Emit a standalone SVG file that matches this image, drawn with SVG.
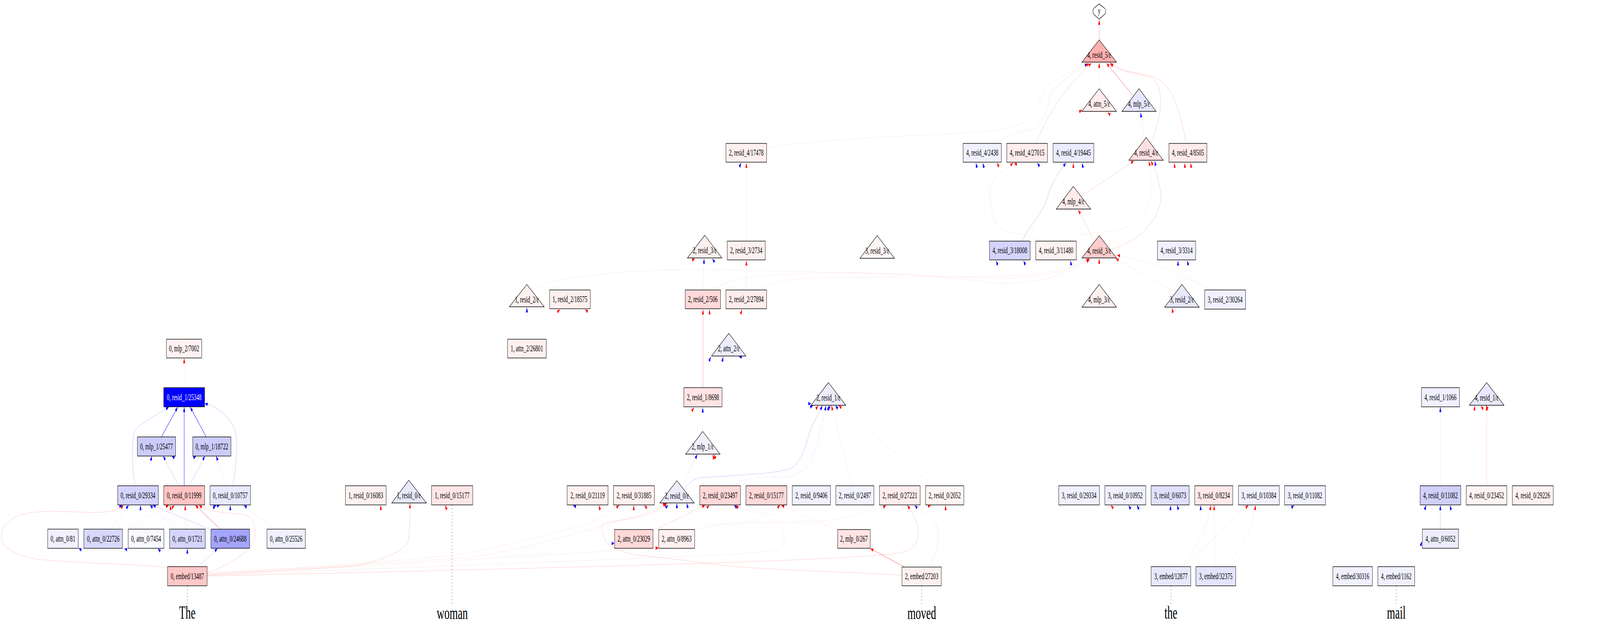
<svg xmlns="http://www.w3.org/2000/svg" width="7115" height="1607" viewBox="0 0 7115 1607" preserveAspectRatio="none" style="width:100vw;height:100vh">
<style>
.nd rect,.nd polygon,.nd path{stroke:#000;stroke-width:1.4}
.nd text{font-family:"Liberation Serif","Times New Roman",serif;font-size:23px;text-anchor:middle;fill:#000}
.tok{font-family:"Liberation Serif","Times New Roman",serif;font-size:47px;text-anchor:middle;fill:#000}
.dot{stroke:#000;stroke-width:1.6;stroke-dasharray:1.6,7;fill:none}
.rs{stroke:#f00;stroke-opacity:.55;stroke-width:1.1;marker-end:url(#mr)}
.rm{stroke:#f00;stroke-opacity:.28;marker-end:url(#mr)}
.rf{stroke:#f00;stroke-opacity:.12;marker-end:url(#mr)}
.rx{stroke:#f00;stroke-opacity:.03;marker-end:url(#mr)}
.bs{stroke:#00f;stroke-opacity:.9;stroke-width:1.5;marker-end:url(#mb)}
.bm{stroke:#00f;stroke-opacity:.3;marker-end:url(#mb)}
.bf{stroke:#00f;stroke-opacity:.12;marker-end:url(#mb)}
.bx{stroke:#00f;stroke-opacity:.03;marker-end:url(#mb)}
</style>
<defs>
<marker id="mr" viewBox="0 0 13 9" refX="12.5" refY="4.5" markerWidth="13" markerHeight="9" markerUnits="userSpaceOnUse" orient="auto"><path d="M0,0L13,4.5L0,9z" fill="#f00"/></marker>
<marker id="mb" viewBox="0 0 13 9" refX="12.5" refY="4.5" markerWidth="13" markerHeight="9" markerUnits="userSpaceOnUse" orient="auto"><path d="M0,0L13,4.5L0,9z" fill="#00f"/></marker>
</defs>
<rect width="7115" height="1607" fill="#fff"/>
<g id="edges" fill="none" stroke-width="1">
<path class="rs" d="M4888,102L4888,51"/>
<path class="rf" d="M4888,227L4888,161"/>
<path class="rs" d="M5037,244L4921,162"/>
<path class="rm" d="M4607,367C4680,260 4790,195 4853,162"/>
<path class="bf" d="M4430,366C4480,345 4560,335 4598,330C4630,318 4655,290 4667,250C4680,225 4740,200 4836,163"/>
<path class="rf" d="M3409,378C3800,345 4150,350 4400,335C4590,322 4610,290 4625,255C4650,200 4760,188 4843,163"/>
<path class="rm" d="M5118,367C5170,290 5178,225 5126,202C5080,186 4990,190 4936,162"/>
<path class="rm" d="M5275,367C5245,270 5205,212 5125,196C5045,184 4980,182 4938,162"/>
<path class="bf" d="M5088,352L5072,288"/>
<path class="rx" d="M5060,362L4926,288"/>
<path class="rx" d="M4658,372C4720,330 4780,295 4811,281"/>
<path class="rm" d="M4808,502L5042,412"/>
<path class="rm" d="M4939,638C5060,620 5140,570 5160,520C5170,480 5140,440 5118,412"/>
<path class="rf" d="M4759,617C4790,600 4850,595 4927,593C5050,585 5110,540 5118,500C5122,460 5115,430 5109,412"/>
<path class="bm" d="M4543,617C4590,570 4640,540 4655,510C4680,460 4710,440 4740,417"/>
<path class="rx" d="M4773,477L4773,417"/>
<path class="bx" d="M4870,612L4812,417"/>
<path class="rf" d="M4632,617C4560,595 4470,600 4440,580C4400,550 4390,480 4420,460C4450,440 4490,425 4505,417"/>
<path class="rx" d="M4740,500L4510,417"/>
<path class="bx" d="M4850,640L4613,417"/>
<path class="bx" d="M4410,617L4340,417"/>
<path class="bx" d="M4440,617L4371,417"/>
<path class="rx" d="M4620,617L4433,417"/>
<path class="bx" d="M5200,617L5135,412"/>
<path class="rx" d="M5250,617L5222,417"/>
<path class="rx" d="M5262,728L5269,417"/>
<path class="rx" d="M5400,742L5294,417"/>
<path class="rm" d="M4865,616L4795,537"/>
<path class="rx" d="M4888,728L4888,662"/>
<path class="rf" d="M5225,748L4962,662"/>
<path class="rf" d="M5387,742C5300,715 5150,675 4968,653"/>
<path class="rf" d="M2366,745C2400,728 2500,710 2615,706C2800,692 3000,688 3200,690C3600,695 4000,700 4400,712C4600,718 4780,690 4843,662"/>
<path class="rf" d="M3175,742C3220,720 3300,705 3500,702C3800,690 4200,705 4430,725C4650,728 4800,690 4845,663"/>
<path class="rf" d="M3378,742C3420,725 3460,716 3600,712C3900,705 4300,715 4583,702C4700,695 4790,680 4846,663"/>
<path class="bx" d="M4750,1243L4430,667"/>
<path class="bx" d="M4930,1243L4552,667"/>
<path class="bx" d="M4960,1243L4760,667"/>
<path class="bx" d="M5200,1243L5239,667"/>
<path class="bx" d="M5560,1243L5279,667"/>
<path class="rx" d="M5350,1243L5212,788"/>
<path class="rf" d="M3319,742L3319,667"/>
<path class="rf" d="M3319,617L3319,417"/>
<path class="bx" d="M3150,602L3296,417"/>
<path class="bf" d="M3126,742L3131,662"/>
<path class="rx" d="M2625,748C2800,720 3000,690 3090,662"/>
<path class="bx" d="M3250,742L3168,662"/>
<path class="rs" d="M3126,992L3126,792"/>
<path class="rx" d="M3180,992L3154,792"/>
<path class="rx" d="M3260,880L3299,792"/>
<path class="bx" d="M2343,868L2343,787"/>
<path class="rf" d="M2357,868L2490,792"/>
<path class="rx" d="M3164,905C2900,880 2700,840 2602,792"/>
<path class="bx" d="M3100,1104C3120,1000 3140,950 3160,913"/>
<path class="bx" d="M3150,1110L3216,913"/>
<path class="bx" d="M3684,979L3286,912"/>
<path class="bx" d="M3125,1104L3125,1043"/>
<path class="rx" d="M2880,1243L3086,1043"/>
<path class="rx" d="M3200,1243L3170,1163"/>
<path class="rx" d="M3230,1243L3175,1163"/>
<path class="bf" d="M3035,1243L3101,1163"/>
<path class="bm" d="M3044,1251C3080,1225 3100,1222 3133,1222C3300,1215 3450,1212 3515,1199C3560,1185 3580,1150 3598,1111C3615,1080 3640,1060 3657,1038"/>
<path class="bf" d="M3261,1243C3300,1225 3350,1220 3486,1222C3560,1215 3600,1190 3607,1184C3630,1140 3660,1080 3673,1038"/>
<path class="rf" d="M3790,1243L3697,1038"/>
<path class="rf" d="M4153,1243L3730,1038"/>
<path class="bx" d="M3608,1243L3686,1038"/>
<path class="bx" d="M3470,1243L3693,1038"/>
<path class="bx" d="M3990,1243L3715,1038"/>
<path class="rx" d="M3420,1243L3638,1038"/>
<path class="bx" d="M3202,1162L3615,1038"/>
<path class="bx" d="M3211,1025L3607,1033"/>
<path class="rx" d="M2818,1355L2818,1293"/>
<path class="bf" d="M2860,1355L2971,1293"/>
<path class="rm" d="M2905,1358L3135,1293"/>
<path class="rx" d="M3052,1355L3154,1293"/>
<path class="bx" d="M3010,1355L3010,1288"/>
<path class="bx" d="M2740,1355L2549,1293"/>
<path class="rx" d="M2950,1355L2866,1293"/>
<path class="bx" d="M3080,1355L3054,1288"/>
<path class="bx" d="M4011,1460C3600,1420 3350,1340 3265,1293"/>
<path class="rf" d="M3725,1357L3475,1293"/>
<path class="rx" d="M3089,1370C3300,1340 3420,1320 3469,1293"/>
<path class="rs" d="M4022,1451L3871,1404"/>
<path class="bf" d="M4132,1451C4170,1410 4185,1375 4165,1345C4140,1320 4090,1308 4068,1293"/>
<path class="rx" d="M4160,1451C4190,1400 4205,1350 4205,1293"/>
<path class="rf" d="M3089,1357C3150,1345 3250,1336 3400,1336C3550,1338 3700,1335 3802,1318C3870,1308 3920,1302 3940,1293"/>
<path class="rx" d="M2904,1360C3100,1342 3300,1342 3400,1342C3700,1345 3950,1330 4139,1293"/>
<path class="rm" d="M4011,1472C3700,1462 3400,1457 3229,1448C3038,1432 2900,1425 2846,1421C2760,1414 2720,1400 2700,1390C2680,1370 2670,1350 2680,1340C2720,1332 2815,1329 2880,1316C2920,1305 2950,1296 2966,1288"/>
<path class="rm" d="M921,1472C1100,1465 1400,1455 1581,1448C1700,1433 1790,1415 1815,1385C1822,1360 1823,1330 1823,1288"/>
<path class="rx" d="M921,1468C1300,1450 1650,1420 1700,1380C1720,1350 1700,1320 1691,1293"/>
<path class="rx" d="M921,1466C1400,1450 1900,1420 2000,1380C2010,1350 1995,1320 1980,1293"/>
<path class="rx" d="M921,1466C1500,1450 2300,1420 2560,1380C2660,1360 2680,1330 2663,1293"/>
<path class="rf" d="M921,1468C1300,1455 1700,1440 2001,1421C2200,1405 2450,1365 2591,1344C2660,1330 2720,1310 2753,1293"/>
<path class="rf" d="M921,1466C1300,1455 1800,1440 2100,1425C2300,1410 2600,1360 2783,1329C2870,1313 2930,1300 2961,1288"/>
<path class="rf" d="M921,1470C1500,1455 2100,1430 2400,1421C2600,1415 2800,1406 2928,1402"/>
<path class="bx" d="M921,1476C1800,1460 2500,1410 2732,1390"/>
<path class="rf" d="M921,1472C1700,1455 2800,1430 3200,1420C3350,1416 3470,1412 3483,1395C3495,1370 3480,1330 3440,1318C3380,1310 3300,1310 3272,1293"/>
<path class="rm" d="M921,1474C2000,1460 3000,1445 3400,1436C3600,1432 3900,1422 3974,1417C4060,1410 4078,1395 4083,1367C4088,1340 4060,1315 4035,1293"/>
<path class="rf" d="M819,992L819,917"/>
<path class="bs" d="M718,1118L790,1042"/>
<path class="bs" d="M819,1243L819,1042"/>
<path class="bs" d="M917,1118L846,1042"/>
<path class="bm" d="M601,1243C588,1200 582,1140 599,1102C630,1080 710,1058 750,1042"/>
<path class="bm" d="M1035,1243C1055,1180 1060,1110 1036,1089C1010,1060 960,1040 911,1033"/>
<path class="bm" d="M795,1243L726,1167"/>
<path class="bm" d="M842,1243L911,1167"/>
<path class="bf" d="M1009,1243L961,1167"/>
<path class="bx" d="M640,1243L676,1167"/>
<path class="bx" d="M950,1243L764,1167"/>
<path class="bx" d="M680,1243L872,1167"/>
<path class="rm" d="M745,1452C600,1443 300,1440 166,1431C60,1420 5,1400 6,1370C8,1340 60,1315 166,1310C280,1306 400,1314 470,1310C510,1308 535,1302 549,1293"/>
<path class="bf" d="M493,1354L572,1293"/>
<path class="bf" d="M785,1354L667,1293"/>
<path class="bm" d="M938,1356L680,1293"/>
<path class="bx" d="M300,1354L543,1293"/>
<path class="bx" d="M630,1354L624,1293"/>
<path class="rf" d="M545,1357L750,1293"/>
<path class="rx" d="M800,1450L756,1293"/>
<path class="rf" d="M688,1354L775,1293"/>
<path class="rf" d="M829,1354L823,1293"/>
<path class="rs" d="M979,1354L869,1293"/>
<path class="rm" d="M921,1466C1020,1445 1120,1410 1133,1375C1140,1340 1120,1320 1080,1316C1000,1312 920,1310 886,1293"/>
<path class="bx" d="M880,1354L958,1293"/>
<path class="bx" d="M700,1354L962,1293"/>
<path class="bx" d="M560,1354L977,1293"/>
<path class="bx" d="M1024,1354L1024,1293"/>
<path class="bf" d="M1217,1354L1085,1293"/>
<path class="bx" d="M745,1475C600,1460 420,1430 350,1403"/>
<path class="bx" d="M760,1450L553,1404"/>
<path class="bx" d="M780,1450L702,1404"/>
<path class="bx" d="M833,1450L833,1404"/>
<path class="bm" d="M880,1450L967,1404"/>
<path class="rf" d="M5259,1450C5310,1410 5360,1370 5385,1293"/>
<path class="rf" d="M5265,1450L5551,1293"/>
<path class="rf" d="M5403,1450L5399,1293"/>
<path class="rf" d="M5454,1450C5510,1410 5560,1370 5584,1293"/>
<path class="bx" d="M5207,1450L5205,1293"/>
<path class="bx" d="M5330,1450L5234,1293"/>
<path class="rx" d="M5140,1450L4940,1293"/>
<path class="bx" d="M5160,1450L5019,1293"/>
<path class="bx" d="M5180,1450L5056,1293"/>
<path class="bx" d="M5360,1450L5338,1293"/>
<path class="bx" d="M5480,1450L5754,1293"/>
<path class="rm" d="M6611,1243L6611,1038"/>
<path class="rx" d="M6780,1243L6586,1038"/>
<path class="rx" d="M6560,1243L6557,1038"/>
<path class="rx" d="M6840,1243L6607,1038"/>
<path class="bf" d="M6405,1243L6405,1042"/>
<path class="bm" d="M6405,1354L6405,1293"/>
<path class="bx" d="M6250,1450L6342,1293"/>
<path class="bx" d="M6470,1354L6448,1293"/>
<path class="bx" d="M6280,1450L6324,1386"/>
</g>
<g id="tokens">
<path class="dot" d="M833,1500V1546"/>
<path class="dot" d="M2010.5,1293V1546"/>
<path class="dot" d="M4098.5,1500V1546"/>
<path class="dot" d="M5207,1500V1546"/>
<path class="dot" d="M6209,1500V1546"/>
<text class="tok" x="833" y="1583">The</text>
<text class="tok" x="2011" y="1584">woman</text>
<text class="tok" x="4099" y="1584">moved</text>
<text class="tok" x="5207" y="1583">the</text>
<text class="tok" x="6209" y="1583">mail</text>
</g>
<g id="n_y" class="nd"><path d="M4888,10L4910,20Q4917,24 4917,29Q4917,34 4910,38L4888,49L4866,38Q4860,34 4860,29Q4860,24 4866,20Z" fill="#fff"/><text x="4888" y="35">y</text></g>
<g id="n_4_resid_5_e" class="nd"><polygon points="4888,102 4965,159 4811,159" fill="#ffb0b0"/><text x="4888" y="148">4, resid_5/ε</text></g>
<g id="n_4_attn_5_e" class="nd"><polygon points="4888,227 4965,285 4810,285" fill="#ffecec"/><text x="4888" y="273">4, attn_5/ε</text></g>
<g id="n_4_mlp_5_e" class="nd"><polygon points="5065,227 5141,285 4989,285" fill="#e6e6fc"/><text x="5065" y="273">4, mlp_5/ε</text></g>
<g id="n_4_resid_4_2438" class="nd"><rect x="4283" y="367" width="170" height="48" fill="#f0f0ff"/><text x="4368" y="398.5">4, resid_4/2438</text></g>
<g id="n_4_resid_4_27015" class="nd"><rect x="4477" y="367" width="181" height="48" fill="#ffecec"/><text x="4567.5" y="398.5">4, resid_4/27015</text></g>
<g id="n_4_resid_4_19445" class="nd"><rect x="4683" y="367" width="181" height="48" fill="#ececff"/><text x="4773.5" y="398.5">4, resid_4/19445</text></g>
<g id="n_4_resid_4_e" class="nd"><polygon points="5097,352 5173,410 5020,410" fill="#ffe0e0"/><text x="5097" y="398">4, resid_4/ε</text></g>
<g id="n_4_resid_4_8505" class="nd"><rect x="5198" y="367" width="169" height="48" fill="#ffeaea"/><text x="5282.5" y="398.5">4, resid_4/8505</text></g>
<g id="n_2_resid_4_17478" class="nd"><rect x="3228" y="367" width="181" height="48" fill="#fff0f0"/><text x="3318.5" y="398.5">2, resid_4/17478</text></g>
<g id="n_4_mlp_4_e" class="nd"><polygon points="4773,477 4850,535 4697,535" fill="#ffecec"/><text x="4773" y="523">4, mlp_4/ε</text></g>
<g id="n_2_resid_3_e" class="nd"><polygon points="3134,602 3210,660 3057,660" fill="#fff0f0"/><text x="3134" y="648">2, resid_3/ε</text></g>
<g id="n_2_resid_3_2734" class="nd"><rect x="3234" y="617" width="169" height="48" fill="#fff0f0"/><text x="3318.5" y="648.5">2, resid_3/2734</text></g>
<g id="n_3_resid_3_e" class="nd"><polygon points="3901,603 3978,661 3824,661" fill="#fff4f4"/><text x="3901" y="649">3, resid_3/ε</text></g>
<g id="n_4_resid_3_18008" class="nd"><rect x="4400" y="617" width="181" height="48" fill="#d4d4fc"/><text x="4490.5" y="648.5">4, resid_3/18008</text></g>
<g id="n_4_resid_3_11480" class="nd"><rect x="4606" y="617" width="180" height="48" fill="#fff2f2"/><text x="4696" y="648.5">4, resid_3/11480</text></g>
<g id="n_4_resid_3_e" class="nd"><polygon points="4888,603 4965,660 4811,660" fill="#ffcccc"/><text x="4888" y="649">4, resid_3/ε</text></g>
<g id="n_4_resid_3_3314" class="nd"><rect x="5147" y="617" width="170" height="48" fill="#f0f0ff"/><text x="5232" y="648.5">4, resid_3/3314</text></g>
<g id="n_1_resid_2_e" class="nd"><polygon points="2343,728 2420,785 2265,785" fill="#fff0f0"/><text x="2343" y="774">1, resid_2/ε</text></g>
<g id="n_1_resid_2_18575" class="nd"><rect x="2444" y="742" width="181" height="48" fill="#fff0f0"/><text x="2534.5" y="773.5">1, resid_2/18575</text></g>
<g id="n_2_resid_2_506" class="nd"><rect x="3047" y="742" width="157" height="48" fill="#ffd8d8"/><text x="3125.5" y="773.5">2, resid_2/506</text></g>
<g id="n_2_resid_2_27894" class="nd"><rect x="3228" y="742" width="181" height="48" fill="#ffecec"/><text x="3318.5" y="773.5">2, resid_2/27894</text></g>
<g id="n_4_mlp_3_e" class="nd"><polygon points="4888,728 4965,786 4811,786" fill="#fff0f0"/><text x="4888" y="774">4, mlp_3/ε</text></g>
<g id="n_3_resid_2_e" class="nd"><polygon points="5256,728 5333,786 5179,786" fill="#e8e8fc"/><text x="5256" y="774">3, resid_2/ε</text></g>
<g id="n_3_resid_2_30264" class="nd"><rect x="5357" y="742" width="182" height="49" fill="#f0f0ff"/><text x="5448" y="774">3, resid_2/30264</text></g>
<g id="n_1_attn_2_26801" class="nd"><rect x="2257" y="868" width="172" height="48" fill="#fff0f0"/><text x="2343" y="899.5">1, attn_2/26801</text></g>
<g id="n_2_attn_2_e" class="nd"><polygon points="3241,853 3317,911 3164,911" fill="#ececfc"/><text x="3241" y="899">2, attn_2/ε</text></g>
<g id="n_0_mlp_2_7002" class="nd"><rect x="740" y="868" width="157" height="48" fill="#fff2f2"/><text x="818.5" y="899.5">0, mlp_2/7002</text></g>
<g id="n_0_resid_1_25348" class="nd"><rect x="728" y="992" width="182" height="49" fill="#0000ff"/><text x="819" y="1024" style="fill:#fff">0, resid_1/25348</text></g>
<g id="n_2_resid_1_8698" class="nd"><rect x="3041" y="992" width="170" height="49" fill="#ffe4e4"/><text x="3126" y="1024">2, resid_1/8698</text></g>
<g id="n_2_resid_1_e" class="nd"><polygon points="3684,979 3761,1037 3607,1037" fill="#ececfc"/><text x="3684" y="1025">2, resid_1/ε</text></g>
<g id="n_4_resid_1_1066" class="nd"><rect x="6321" y="992" width="169" height="49" fill="#f0f0ff"/><text x="6405.5" y="1024">4, resid_1/1066</text></g>
<g id="n_4_resid_1_e" class="nd"><polygon points="6611,979 6688,1037 6534,1037" fill="#e8e8fc"/><text x="6611" y="1025">4, resid_1/ε</text></g>
<g id="n_0_mlp_1_25477" class="nd"><rect x="611" y="1118" width="170" height="49" fill="#ccccfa"/><text x="696" y="1150">0, mlp_1/25477</text></g>
<g id="n_0_mlp_1_18722" class="nd"><rect x="857" y="1118" width="170" height="49" fill="#ccccfa"/><text x="942" y="1150">0, mlp_1/18722</text></g>
<g id="n_2_mlp_1_e" class="nd"><polygon points="3125,1104 3202,1162 3049,1162" fill="#f0f0fc"/><text x="3125" y="1150">2, mlp_1/ε</text></g>
<g id="n_0_resid_0_29334" class="nd"><rect x="523" y="1243" width="181" height="49" fill="#d4d4fc"/><text x="613.5" y="1275">0, resid_0/29334</text></g>
<g id="n_0_resid_0_11999" class="nd"><rect x="728" y="1243" width="182" height="49" fill="#ffc4c4"/><text x="819" y="1275">0, resid_0/11999</text></g>
<g id="n_0_resid_0_10757" class="nd"><rect x="934" y="1243" width="180" height="49" fill="#e8e8fe"/><text x="1024" y="1275">0, resid_0/10757</text></g>
<g id="n_1_resid_0_16083" class="nd"><rect x="1536" y="1243" width="181" height="49" fill="#fff0f0"/><text x="1626.5" y="1275">1, resid_0/16083</text></g>
<g id="n_1_resid_0_e" class="nd"><polygon points="1818,1229 1896,1287 1742,1287" fill="#e8e8fc"/><text x="1818" y="1275">1, resid_0/ε</text></g>
<g id="n_1_resid_0_15177" class="nd"><rect x="1919" y="1243" width="183" height="49" fill="#ffe6e6"/><text x="2010.5" y="1275">1, resid_0/15177</text></g>
<g id="n_2_resid_0_21119" class="nd"><rect x="2522" y="1243" width="182" height="49" fill="#fff0f0"/><text x="2613" y="1275">2, resid_0/21119</text></g>
<g id="n_2_resid_0_31885" class="nd"><rect x="2728" y="1243" width="182" height="49" fill="#fff0f0"/><text x="2819" y="1275">2, resid_0/31885</text></g>
<g id="n_2_resid_0_e" class="nd"><polygon points="3010,1230 3087,1287 2934,1287" fill="#ececfc"/><text x="3010" y="1276">2, resid_0/ε</text></g>
<g id="n_2_resid_0_23497" class="nd"><rect x="3112" y="1243" width="181" height="49" fill="#ffd8d8"/><text x="3202.5" y="1275">2, resid_0/23497</text></g>
<g id="n_2_resid_0_15177" class="nd"><rect x="3317" y="1243" width="182" height="49" fill="#ffd8d8"/><text x="3408" y="1275">2, resid_0/15177</text></g>
<g id="n_2_resid_0_9406" class="nd"><rect x="3523" y="1243" width="170" height="49" fill="#f0f0ff"/><text x="3608" y="1275">2, resid_0/9406</text></g>
<g id="n_2_resid_0_2497" class="nd"><rect x="3717" y="1243" width="169" height="49" fill="#f2f2ff"/><text x="3801.5" y="1275">2, resid_0/2497</text></g>
<g id="n_2_resid_0_27221" class="nd"><rect x="3911" y="1243" width="181" height="49" fill="#ffecec"/><text x="4001.5" y="1275">2, resid_0/27221</text></g>
<g id="n_2_resid_0_2052" class="nd"><rect x="4116" y="1243" width="170" height="49" fill="#fff4f4"/><text x="4201" y="1275">2, resid_0/2052</text></g>
<g id="n_3_resid_0_29334" class="nd"><rect x="4708" y="1243" width="181" height="49" fill="#f0f0ff"/><text x="4798.5" y="1275">3, resid_0/29334</text></g>
<g id="n_3_resid_0_10952" class="nd"><rect x="4913" y="1243" width="182" height="49" fill="#f0f0ff"/><text x="5004" y="1275">3, resid_0/10952</text></g>
<g id="n_3_resid_0_6073" class="nd"><rect x="5119" y="1243" width="169" height="49" fill="#e0e0fc"/><text x="5203.5" y="1275">3, resid_0/6073</text></g>
<g id="n_3_resid_0_8234" class="nd"><rect x="5313" y="1243" width="169" height="49" fill="#ffe8e8"/><text x="5397.5" y="1275">3, resid_0/8234</text></g>
<g id="n_3_resid_0_10384" class="nd"><rect x="5507" y="1243" width="182" height="49" fill="#f0f0ff"/><text x="5598" y="1275">3, resid_0/10384</text></g>
<g id="n_3_resid_0_11082" class="nd"><rect x="5712" y="1243" width="182" height="49" fill="#f0f0ff"/><text x="5803" y="1275">3, resid_0/11082</text></g>
<g id="n_4_resid_0_11082" class="nd"><rect x="6315" y="1243" width="181" height="49" fill="#d0d0fa"/><text x="6405.5" y="1275">4, resid_0/11082</text></g>
<g id="n_4_resid_0_23452" class="nd"><rect x="6520" y="1243" width="181" height="49" fill="#fff2f2"/><text x="6610.5" y="1275">4, resid_0/23452</text></g>
<g id="n_4_resid_0_29226" class="nd"><rect x="6725" y="1243" width="182" height="49" fill="#fff0f0"/><text x="6816" y="1275">4, resid_0/29226</text></g>
<g id="n_0_attn_0_81" class="nd"><rect x="212" y="1354" width="136" height="49" fill="#f0f0ff"/><text x="280" y="1386">0, attn_0/81</text></g>
<g id="n_0_attn_0_22726" class="nd"><rect x="373" y="1354" width="172" height="49" fill="#d8d8fc"/><text x="459" y="1386">0, attn_0/22726</text></g>
<g id="n_0_attn_0_7454" class="nd"><rect x="570" y="1354" width="159" height="49" fill="#f8f8ff"/><text x="649.5" y="1386">0, attn_0/7454</text></g>
<g id="n_0_attn_0_1721" class="nd"><rect x="754" y="1354" width="159" height="49" fill="#d4d4fc"/><text x="833.5" y="1386">0, attn_0/1721</text></g>
<g id="n_0_attn_0_24688" class="nd"><rect x="938" y="1354" width="172" height="49" fill="#a4a4fa"/><text x="1024" y="1386">0, attn_0/24688</text></g>
<g id="n_0_attn_0_25526" class="nd"><rect x="1187" y="1354" width="171" height="49" fill="#f0f0ff"/><text x="1272.5" y="1386">0, attn_0/25526</text></g>
<g id="n_2_attn_0_23029" class="nd"><rect x="2733" y="1355" width="171" height="48" fill="#ffd8d8"/><text x="2818.5" y="1386.5">2, attn_0/23029</text></g>
<g id="n_2_attn_0_8963" class="nd"><rect x="2929" y="1355" width="160" height="48" fill="#fff0f0"/><text x="3009" y="1386.5">2, attn_0/8963</text></g>
<g id="n_2_mlp_0_267" class="nd"><rect x="3725" y="1355" width="145" height="48" fill="#ffe4e4"/><text x="3797.5" y="1386.5">2, mlp_0/267</text></g>
<g id="n_4_attn_0_6052" class="nd"><rect x="6325" y="1354" width="161" height="49" fill="#ececfc"/><text x="6405.5" y="1386">4, attn_0/6052</text></g>
<g id="n_0_embed_13487" class="nd"><rect x="745" y="1450" width="176" height="49" fill="#ffc8c8"/><text x="833" y="1482">0, embed/13487</text></g>
<g id="n_2_embed_27203" class="nd"><rect x="4011" y="1451" width="175" height="48" fill="#fff0f0"/><text x="4098.5" y="1482.5">2, embed/27203</text></g>
<g id="n_3_embed_12877" class="nd"><rect x="5119" y="1450" width="176" height="49" fill="#e8e8fc"/><text x="5207" y="1482">3, embed/12877</text></g>
<g id="n_3_embed_32375" class="nd"><rect x="5318" y="1450" width="177" height="49" fill="#e4e4fc"/><text x="5406.5" y="1482">3, embed/32375</text></g>
<g id="n_4_embed_30316" class="nd"><rect x="5927" y="1450" width="176" height="49" fill="#f0f0ff"/><text x="6015" y="1482">4, embed/30316</text></g>
<g id="n_4_embed_1162" class="nd"><rect x="6127" y="1450" width="164" height="49" fill="#f0f0ff"/><text x="6209" y="1482">4, embed/1162</text></g>
</svg>
